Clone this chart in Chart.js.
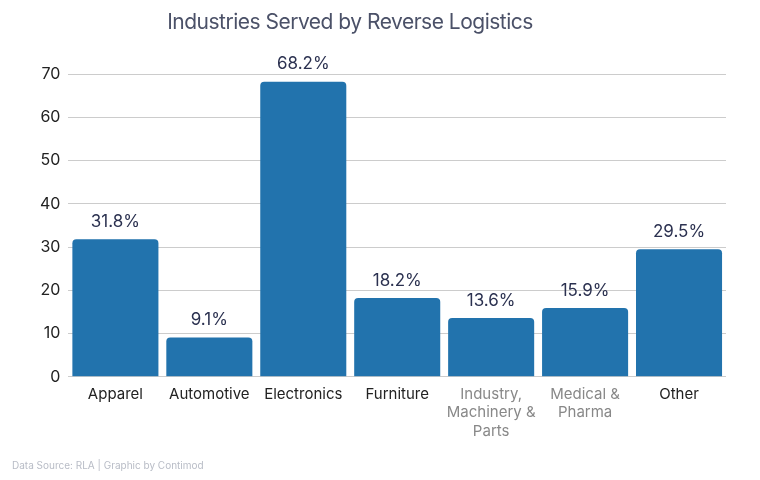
<!DOCTYPE html>
<html>
<head>
<meta charset="utf-8">
<script src="https://cdn.jsdelivr.net/npm/chart.js@4"></script>
<style>
  body { margin: 0; background: #fff; }
  #wrap { position: relative; width: 760px; height: 480px; font-family: Inter, "Noto Sans", sans-serif; }
  #title { position: absolute; left: 0; width: 700px; top: 9px; text-align: center; font-size: 21px; color: #4b5168; letter-spacing: -0.5px; }
  #source { position: absolute; left: 12px; top: 459px; font-size: 10px; color: #b8bcc6; }
  canvas { position: absolute; left: 0; top: 0; }
</style>
</head>
<body>
<div id="wrap">
  <canvas id="barChart" width="760" height="480"></canvas>
  <div id="title">Industries Served by Reverse Logistics</div>
  <div id="source">Data Source: RLA | Graphic by Contimod</div>
</div>
<script>
  // chart data
  var categories = ['Apparel', 'Automotive', 'Electronics', 'Furniture', ['Industry,', 'Machinery &', 'Parts'], ['Medical &', 'Pharma'], 'Other'];
  var shares = [31.8, 9.1, 68.2, 18.2, 13.6, 15.9, 29.5];
  var yTicks = [0, 10, 20, 30, 40, 50, 60, 70];
  var labelColors = ['#222', '#222', '#222', '#222', '#888', '#888', '#222'];

  // draws the % value above each bar
  var valueLabels = {
    id: 'valueLabels',
    afterDatasetsDraw: function(chart) {
      var ctx = chart.ctx;
      var meta = chart.getDatasetMeta(0);
      ctx.save();
      ctx.font = '17px Inter, "Noto Sans", sans-serif';
      ctx.fillStyle = '#2b3150';
      ctx.textAlign = 'center';
      ctx.textBaseline = 'bottom';
      meta.data.forEach(function(bar, i) {
        ctx.fillText(shares[i].toFixed(1) + '%', bar.x, bar.y - 9);
      });
      ctx.restore();
    }
  };

  var ctx = document.getElementById('barChart').getContext('2d');
  var myBarChart = new Chart(ctx, {
    type: 'bar',
    data: {
      labels: categories,
      datasets: [{
        data: shares,
        backgroundColor: '#2273ad',
        borderRadius: { topLeft: 4, topRight: 4 },
        borderSkipped: 'bottom',
        barPercentage: 0.916,
        categoryPercentage: 1
      }]
    },
    options: {
      responsive: false,
      animation: false,
      layout: { padding: { left: 32, right: 34, top: 74, bottom: 39 } },
      plugins: { legend: { display: false }, tooltip: { enabled: false } },
      scales: {
        x: {
          grid: { display: false },
          border: { display: false },
          ticks: {
            color: labelColors,
            font: { family: 'Inter, "Noto Sans", sans-serif', size: 15, lineHeight: 1.25 },
            maxRotation: 0,
            autoSkip: false,
            padding: 0
          }
        },
        y: {
          min: 0,
          max: 70,
          afterBuildTicks: function(axis) {
            axis.ticks = yTicks.map(function(v) { return { value: v }; });
          },
          grid: { color: '#cccccc', lineWidth: 1, drawTicks: false },
          border: { display: false },
          ticks: {
            color: '#222',
            font: { family: 'Inter, "Noto Sans", sans-serif', size: 16 },
            padding: 8
          }
        }
      }
    },
    plugins: [valueLabels]
  });
</script>
</body>
</html>
